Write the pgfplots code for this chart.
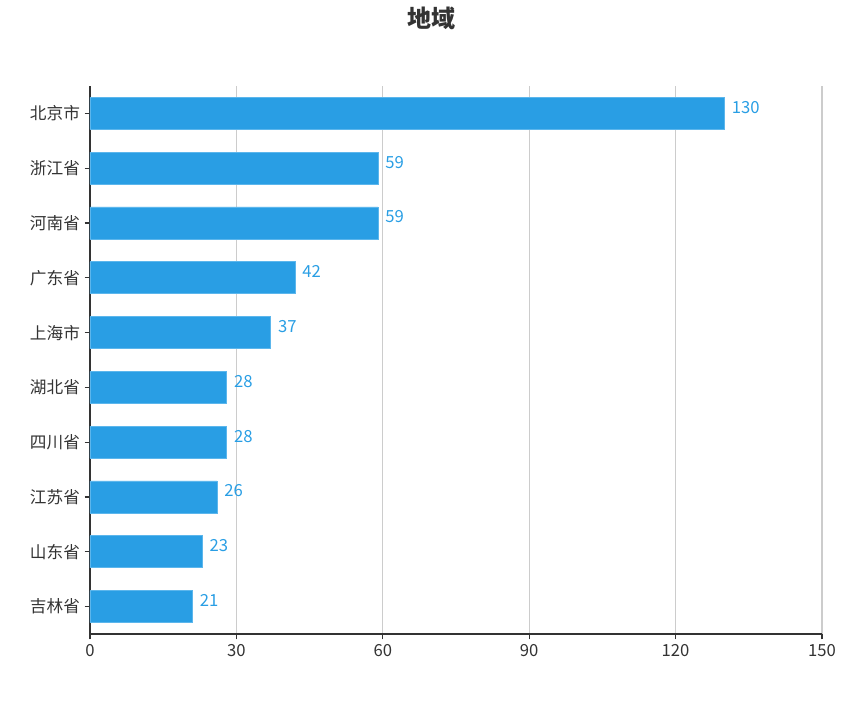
\documentclass[border=0pt]{standalone}
\usepackage{fontspec}
\setmainfont{Noto Sans CJK SC}
\usepackage{pgfplots}
\pgfplotsset{compat=1.18}
\definecolor{barblue}{HTML}{299EE4}
\definecolor{baredge}{HTML}{5CB6EC}
\definecolor{txt}{HTML}{333333}
\definecolor{gridc}{HTML}{CCCCCC}
\begin{document}
\begin{tikzpicture}
% fixed page: 1px of the reference = 0.75pt
\useasboundingbox (-67.5pt,-65.25pt) rectangle (581.25pt,475.5pt);
\begin{axis}[
    at={(0,0)}, anchor=south west,
    scale only axis,
    width=549pt, height=411pt,
    xbar, bar width=24pt,
    xmin=0, xmax=150,
    xtick={0,30,60,90,120,150},
    ymin=-0.5, ymax=9.5,
    ytick={0,...,9},
    yticklabels={吉林省,山东省,江苏省,四川省,湖北省,上海市,广东省,河南省,浙江省,北京市},
    axis lines*=left,
    axis line style={txt, line width=0.9pt},
    xmajorgrids,
    major grid style={gridc, line width=0.8pt},
    tick align=outside,
    major tick length=4pt,
    tick style={txt, line width=0.8pt},
    ticklabel style={font=\fontsize{12.5}{14}\selectfont, text=txt},
    /pgf/number format/assume math mode=true,
    nodes near coords,
    every node near coord/.append style={font=\fontsize{12.5}{14}\selectfont, text=barblue, anchor=west, xshift=2pt, yshift=4.5pt},
    title={地域},
    title style={at={(0.467,1)}, anchor=center, yshift=45pt, font=\bfseries\fontsize{18}{20}\selectfont, text=txt},
]
\addplot[fill=barblue, draw=baredge, line width=0.5pt] coordinates {
    (21,0) (23,1) (26,2) (28,3) (28,4) (37,5) (42,6) (59,7) (59,8) (130,9)
};
\end{axis}
\end{tikzpicture}
\end{document}
